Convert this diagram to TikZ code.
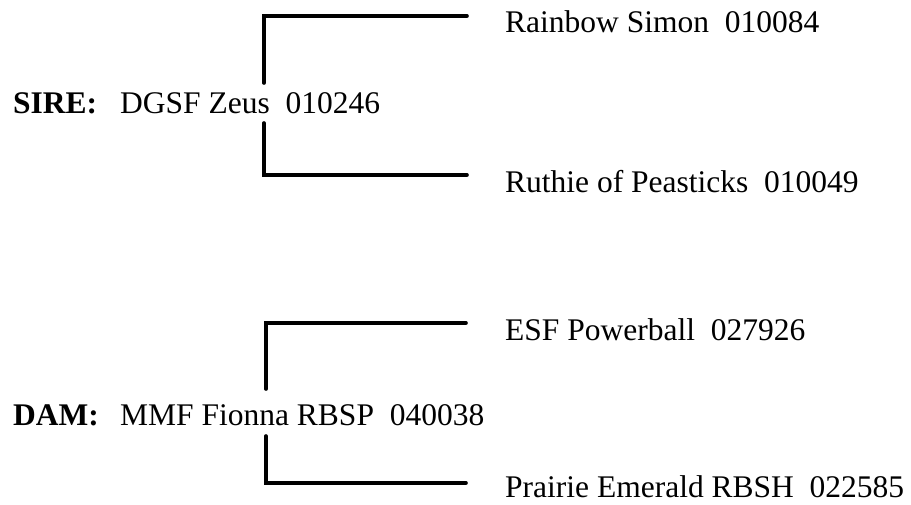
\documentclass[tikz,border=0pt]{standalone}
\usepackage{fontspec}
\setmainfont{Liberation Serif}
\usetikzlibrary{positioning}

\tikzset{
  entry/.style={anchor=base west,inner sep=0pt,font=\fontsize{31.5}{38}\selectfont},
  heading/.style={entry,font=\fontsize{31.5}{38}\selectfont\bfseries},
  bracket/.style={line width=3.6pt,line cap=round}
}

\begin{document}
\begin{tikzpicture}[x=1pt,y=-1pt]
  \useasboundingbox (0,0) rectangle (911,504);
  % sire side
  \node[heading] (sire) at (13,113) {SIRE:};
  \node[entry] (zeus) at (120,113) {DGSF Zeus\enspace 010246};
  \node[entry] (simon) at (505,32) {Rainbow Simon\enspace 010084};
  \node[entry] (ruthie) at (505,192) {Ruthie of Peasticks\enspace 010049};
  \coordinate (zeustop) at (264,83);
  \coordinate (zeusbot) at (264,123);
  \draw[bracket] (zeustop) |- ([xshift=-38pt,yshift=16pt]simon.base west);
  \draw[bracket] (zeusbot) |- ([xshift=-38pt,yshift=17pt]ruthie.base west);
  % dam side
  \node[heading] (dam) at (13,425) {DAM:};
  \node[entry] (fiona) at (120,425) {MMF Fionna RBSP\enspace 040038};
  \node[entry] (powerball) at (505,340) {ESF Powerball\enspace 027926};
  \node[entry] (emerald) at (505,497) {Prairie Emerald RBSH\enspace 022585};
  \coordinate (fionatop) at (266,389);
  \coordinate (fionabot) at (266,436);
  \draw[bracket] (fionatop) |- ([xshift=-39pt,yshift=17pt]powerball.base west);
  \draw[bracket] (fionabot) |- ([xshift=-39pt,yshift=14pt]emerald.base west);
\end{tikzpicture}
\end{document}
